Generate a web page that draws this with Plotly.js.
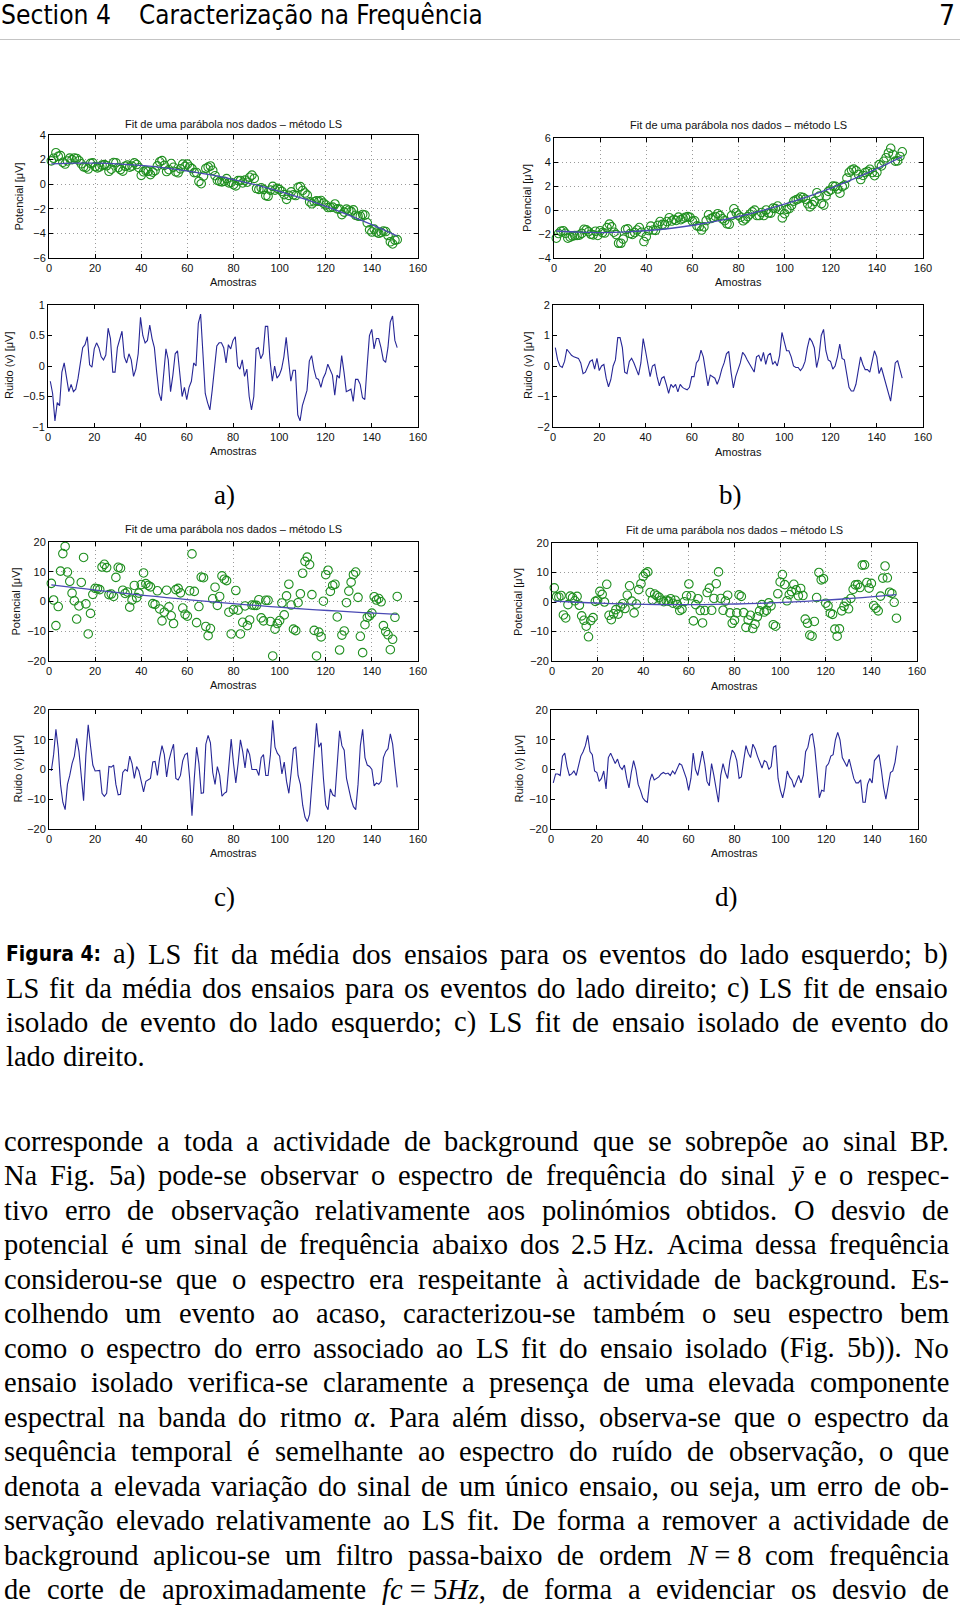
<!DOCTYPE html>
<html><head><meta charset="utf-8">
<script src="https://cdn.plot.ly/plotly-3.0.1.min.js"></script>
<style>html,body{margin:0;padding:0;background:#fff}</style>
</head><body>
<div id="chart" style="width:960px;height:1609px"></div>
<script>
// ---------------- DATA ----------------
const xTicks = [0,20,40,60,80,100,120,140,160];
const yTicksA = [-6,-4,-2,0,2,4];
const yTicksNoiseA = [-1,-0.5,0,0.5,1];
const yTicksB = [-4,-2,0,2,4,6];
const yTicksNoiseB = [-2,-1,0,1,2];
const yTicksCD = [-20,-10,0,10,20];

const fitX = [1,11,21,31,41,51,61,71,81,91,101,111,121,131,141,151];
const fitA = [1.65,1.71,1.71,1.64,1.51,1.31,1.05,0.73,0.34,-0.12,-0.64,-1.22,-1.87,-2.59,-3.37,-4.21];
const fitB = [-1.75,-1.85,-1.88,-1.83,-1.71,-1.52,-1.25,-0.91,-0.50,-0.01,0.55,1.18,1.89,2.67,3.53,4.45];
const fitC = [5.60,4.66,3.77,2.91,2.09,1.31,0.57,-0.13,-0.79,-1.41,-1.99,-2.53,-3.03,-3.50,-3.92,-4.30];
const fitD = [0.30,-0.09,-0.40,-0.64,-0.80,-0.89,-0.89,-0.82,-0.67,-0.45,-0.15,0.23,0.68,1.21,1.82,2.51];

const dataA = [1.90,2.11,2.56,2.27,2.32,1.78,1.64,1.89,2.12,2.00,
2.13,2.09,1.91,1.66,1.41,1.36,1.23,1.69,1.73,1.43,
1.33,1.40,1.55,1.59,1.50,1.05,1.22,1.76,1.75,1.35,
1.19,1.06,1.46,1.55,1.39,1.47,1.73,1.60,1.34,0.72,
1.01,1.11,1.05,0.78,0.98,1.11,1.49,1.82,1.92,1.53,
1.03,1.18,1.68,1.38,1.01,0.93,1.25,1.63,1.45,1.63,
1.40,1.27,0.94,0.95,0.22,0.04,0.66,1.28,1.39,1.48,
1.13,0.69,0.32,0.23,0.19,0.24,0.45,0.11,0.14,-0.04,
-0.14,0.29,0.30,0.10,0.33,0.16,0.56,0.74,0.47,-0.35,
-0.42,-0.29,-0.42,-0.93,-0.98,-0.48,-0.18,-0.48,-0.34,-0.44,
-0.59,-0.85,-1.23,-0.91,-0.62,-0.86,-0.92,-0.25,-0.20,-0.51,
-0.72,-0.89,-1.43,-1.59,-1.43,-1.35,-1.39,-1.33,-1.54,-1.69,
-1.90,-1.89,-1.86,-1.61,-2.01,-2.03,-2.47,-2.27,-2.03,-2.12,
-2.21,-2.09,-2.53,-2.60,-2.60,-2.46,-2.51,-3.14,-3.71,-3.89,
-3.65,-3.90,-3.99,-3.92,-3.81,-3.85,-4.17,-4.68,-4.86,-4.55,
-4.51];
const noiseA = [-0.25,-0.45,-0.9,-0.6,-0.65,-0.1,0.05,-0.2,-0.42,-0.3,
-0.42,-0.38,-0.2,0.05,0.3,0.35,0.48,0.02,-0.02,0.28,
0.38,0.3,0.15,0.1,0.18,0.62,0.45,-0.1,-0.1,0.3,
0.45,0.57,0.15,0.05,0.2,0.1,-0.17,-0.05,0.2,0.8,
0.5,0.38,0.42,0.67,0.45,0.3,-0.1,-0.45,-0.57,-0.2,
0.28,0.1,-0.42,-0.15,0.2,0.25,-0.1,-0.5,-0.35,-0.55,
-0.35,-0.25,0.05,0.0,0.7,0.85,0.2,-0.45,-0.6,-0.72,
-0.4,0.0,0.33,0.38,0.38,0.3,0.05,0.35,0.28,0.42,
0.48,0.0,-0.05,0.1,-0.17,-0.05,-0.5,-0.72,-0.5,0.28,
0.3,0.12,0.2,0.65,0.65,0.1,-0.25,0.0,-0.2,-0.15,
-0.05,0.15,0.47,0.1,-0.25,-0.07,-0.07,-0.8,-0.9,-0.65,
-0.5,-0.4,0.08,0.17,-0.05,-0.2,-0.22,-0.35,-0.2,-0.12,
0.03,-0.05,-0.15,-0.48,-0.15,-0.2,0.17,-0.1,-0.42,-0.4,
-0.38,-0.58,-0.22,-0.22,-0.3,-0.52,-0.55,0.0,0.5,0.6,
0.28,0.45,0.45,0.3,0.1,0.06,0.3,0.72,0.82,0.42,
0.3];
const dataB = [-2.35,-1.96,-1.77,-1.73,-1.94,-2.35,-2.26,-2.17,-2.13,-2.12,
-2.10,-1.95,-1.61,-1.66,-1.81,-2.02,-2.07,-1.77,-2.12,-1.73,
-1.88,-1.92,-1.47,-1.18,-1.41,-1.85,-2.05,-2.77,-2.77,-2.43,
-1.63,-1.57,-1.96,-2.04,-1.88,-1.67,-1.46,-1.85,-2.63,-2.22,
-1.71,-1.34,-1.67,-1.70,-1.28,-0.96,-1.20,-1.23,-0.96,-0.64,
-0.92,-0.79,-0.87,-0.59,-0.81,-0.69,-0.61,-0.55,-0.61,-0.93,
-0.90,-1.32,-1.38,-1.67,-1.41,-0.88,-0.40,-0.71,-0.63,-0.54,
-0.31,-0.47,-0.73,-0.89,-1.15,-1.19,-0.46,0.10,-0.23,-0.44,
-0.60,-0.90,-0.75,-0.55,-0.35,-0.16,-0.01,-0.46,-0.46,-0.21,
-0.46,0.00,-0.25,-0.26,0.16,0.12,0.33,0.03,-0.66,-0.31,
0.05,0.11,0.38,0.74,0.85,0.92,1.08,1.04,0.90,0.52,
0.26,0.45,0.72,1.44,1.16,0.54,0.41,1.18,1.55,1.67,
1.99,1.97,1.75,1.40,1.95,2.08,2.66,3.14,3.33,3.41,
3.27,2.96,2.54,2.88,3.13,3.22,3.39,3.12,2.86,3.14,
3.78,3.67,4.06,4.36,4.75,5.14,4.63,4.07,4.09,4.46,
4.85];
const noiseB = [0.6,0.2,0.0,-0.05,0.15,0.55,0.45,0.35,0.3,0.28,
0.25,0.1,-0.25,-0.2,-0.05,0.15,0.2,-0.1,0.25,-0.15,
0.0,0.05,-0.4,-0.68,-0.45,0.0,0.2,0.93,0.93,0.6,
-0.2,-0.25,0.15,0.25,0.1,-0.1,-0.3,0.1,0.9,0.5,
0.0,-0.35,0.0,0.05,-0.35,-0.65,-0.4,-0.35,-0.6,-0.9,
-0.6,-0.7,-0.6,-0.85,-0.6,-0.7,-0.75,-0.78,-0.7,-0.35,
-0.35,0.1,0.2,0.52,0.3,-0.2,-0.65,-0.3,-0.35,-0.4,
-0.6,-0.4,-0.1,0.1,0.4,0.48,-0.2,-0.72,-0.35,-0.1,
0.1,0.45,0.35,0.2,0.05,-0.1,-0.2,0.3,0.35,0.15,
0.45,0.05,0.35,0.42,0.05,0.15,0.0,0.35,1.1,0.8,
0.5,0.5,0.3,0.0,-0.05,-0.05,-0.15,-0.05,0.15,0.6,
0.92,0.8,0.6,-0.05,0.3,1.0,1.2,0.5,0.2,0.15,
-0.1,0.0,0.3,0.72,0.25,0.2,-0.3,-0.7,-0.82,-0.82,
-0.6,-0.2,0.3,0.05,-0.12,-0.12,-0.2,0.15,0.5,0.3,
-0.25,-0.05,-0.35,-0.55,-0.85,-1.15,-0.55,0.1,0.18,-0.1,
-0.4];
const dataC = [6.1,0.5,-8.1,-1.7,10.2,16.1,18.5,9.9,6.8,2.8,
0.2,-5.9,-1.5,6.4,14.8,-0.8,-10.9,-4.0,2.4,4.4,
4.3,4.0,11.6,12.5,11.4,2.3,2.5,1.7,8.1,11.5,
11.2,3.8,2.7,3.2,-1.9,0.5,5.4,1.3,2.8,5.7,
9.6,6.0,5.4,4.9,-0.7,-1.0,3.6,-2.5,-6.5,-3.6,
3.8,-1.8,-4.8,-7.4,4.0,4.4,2.9,-2.2,-4.3,-4.9,
3.6,16.0,3.4,-7.1,-1.7,8.2,8.0,-8.4,-11.5,-9.1,
0.9,4.8,-1.3,1.7,8.6,7.5,7.0,-3.6,-10.9,-2.7,
3.7,-2.9,-10.9,-7.0,-1.5,-8.1,-6.2,-1.2,-1.3,-1.3,
0.6,-5.5,-6.5,0.4,0.4,-6.7,-18.3,-9.3,-7.4,-6.4,
-0.5,-4.5,1.9,5.8,-1.2,-9.3,-9.8,-0.4,2.6,9.5,
13.5,14.9,12.4,2.3,-9.7,-18.3,-10.3,-11.9,0.1,9.0,
10.5,3.4,5.4,5.8,-5.2,-16.3,-11.3,-9.9,-0.4,3.5,
6.5,9.0,9.9,1.4,-11.7,-17.2,-7.8,-5.3,-4.8,-3.9,
1.6,0.5,1.0,-0.1,-8.1,-10.1,-11.2,-16.2,-12.7,-5.3,
1.7];
const noiseC = [-0.5,5,13.5,7,-5,-11,-13.5,-5,-2,2,
4.5,10.5,6,-2,-10.5,5,15,8,1.5,-0.5,
-0.5,-0.3,-8,-9,-8,1,0.8,1.5,-5,-8.5,
-8.3,-1,0,-0.5,4.5,2,-3,1,-0.5,-3.5,
-7.5,-4,-3.5,-3,2.5,2.7,-2,4,8,5,
-2.5,3,6,8.5,-3,-3.5,-2,3,5,5.5,
-3,-15.5,-3,7.5,2,-8,-7.8,8.5,11.5,9,
-1,-5,1,-2,-9,-8,-7.5,3,10.2,2,
-4.5,2,10,6,0.5,7,5,0,0,0,
-2,4,5,-2,-2,5,16.5,7.5,5.5,4.5,
-1.5,2.5,-4,-8,-1,7,7.5,-2,-5,-12,
-16,-17.5,-15,-5,7,15.5,7.5,9,-3,-12,
-13.5,-6.5,-8.5,-9,2,13,8,6.5,-3,-7,
-10,-12.5,-13.5,-5,8,13.5,4,1.5,1,0,
-5.5,-4.5,-5,-4,4,6,7,12,8.5,1,
-6];
const dataD = [4.8,1.8,1.7,2.2,-4.4,-5.4,-0.9,2.0,1.5,0.4,
1.9,-1.1,-4.7,-6.2,-8.2,-11.8,-6.3,-5.3,0.2,0.6,
3.6,2.6,0.0,6.0,-4.5,-6.0,-4.0,-2.6,-4.1,-1.6,
-0.6,-2.2,2.3,5.5,0.3,-3.7,-0.7,4.2,6.2,8.7,
9.7,10.2,3.2,0.7,2.7,2.1,1.6,0.6,0.1,0.6,
0.3,1.1,-0.4,0.6,-0.9,-2.9,-2.4,0.1,2.1,6.1,
2.1,-6.4,-0.9,1.1,-2.9,-7.1,-2.9,3.2,4.7,-2.8,
1.2,6.2,10.2,1.2,-2.8,0.3,2.3,-3.7,-7.2,-6.2,
-3.7,2.4,1.9,-3.6,-8.6,-6.1,-4.5,-9.0,-7.5,-5.0,
-3.0,-0.9,-3.4,-2.8,-0.3,-1.3,-7.7,-8.2,2.8,6.8,
9.3,5.9,0.4,2.5,3.5,6.0,4.1,2.1,4.6,2.2,
-5.8,-7.2,-11.2,-11.6,-6.6,1.5,10.0,7.5,7.9,-0.4,
-1.3,-3.8,-4.2,-9.2,-11.6,-9.1,-3.0,-1.5,0.1,-2.3,
1.2,4.3,5.8,5.9,4.9,12.5,12.6,6.6,4.7,6.3,
-1.2,-2.1,-3.0,2.0,8.1,12.2,8.2,3.3,2.9,-0.1,
-5.5];
const noiseD = [-4.5,-1.5,-1.5,-2,4.5,5.5,1,-2,-1.5,-0.5,
-2,1,4.5,6,8,11.5,6,5,-0.5,-1,
-4,-3,-0.5,-6.5,4,5.5,3.5,2,3.5,1,
0,1.5,-3,-6.2,-1,3,0,-5,-7,-9.5,
-10.5,-11,-4,-1.5,-3.5,-3,-2.5,-1.5,-1,-1.5,
-1.2,-2,-0.5,-1.5,0,2,1.5,-1,-3,-7,
-3,5.5,0,-2,2,6.2,2,-4,-5.5,2,
-2,-7,-11,-2,2,-1,-3,3,6.5,5.5,
3,-3,-2.5,3,8,5.5,4,8.5,7,4.5,
2.5,0.5,3,2.5,0,1,7.5,8,-3,-7,
-9.5,-6,-0.5,-2.5,-3.5,-6,-4,-2,-4.5,-2,
6,7.5,11.5,12,7,-1,-9.5,-7,-7.3,1,
2,4.5,5,10,12.5,10,4,2.5,1,3.5,
0,-3,-4.5,-4.5,-3.5,-11,-11,-5,-3,-4.5,
3,4,5,0,-6,-10,-6,-1,-0.5,2.5,
8];

const plotTitle = 'Fit de uma parábola nos dados – método LS';
const xLabel = 'Amostras';
const yLabelTop = 'Potencial [μV]';
const yLabelNoise = 'Ruido (v) [μV]';
const panelLabels = ['a)','b)','c)','d)'];

const headerLeft = 'Section 4';
const headerTitle = 'Caracterização na Frequência';
const pageNumber = '7';

const captionLines = [
 ['§Figura~4: a) LS fit da média dos ensaios para os eventos do lado esquerdo; b)', true],
 ['LS fit da média dos ensaios para os eventos do lado direito; c) LS fit de ensaio', true],
 ['isolado de evento do lado esquerdo; c) LS fit de ensaio isolado de evento do', true],
 ['lado direito.', false]
];
const bodyLines = [
 ['corresponde a toda a actividade de background que se sobrepõe ao sinal BP.', true],
 ['Na Fig. 5a) pode-se observar o espectro de frequência do sinal <i>ȳ</i> e o respec-', true],
 ['tivo erro de observação relativamente aos polinómios obtidos. O desvio de', true],
 ['potencial é um sinal de frequência abaixo dos 2.5~Hz. Acima dessa frequência', true],
 ['considerou-se que o espectro era respeitante à actividade de background. Es-', true],
 ['colhendo um evento ao acaso, caracterizou-se também o seu espectro bem', true],
 ['como o espectro do erro associado ao LS fit do ensaio isolado (Fig. 5b)). No', true],
 ['ensaio isolado verifica-se claramente a presença de uma elevada componente', true],
 ['espectral na banda do ritmo <i>α</i>. Para além disso, observa-se que o espectro da', true],
 ['sequência temporal é semelhante ao espectro do ruído de observação, o que', true],
 ['denota a elevada variação do sinal de um único ensaio, ou seja, um erro de ob-', true],
 ['servação elevado relativamente ao LS fit. De forma a remover a actividade de', true],
 ['background aplicou-se um filtro passa-baixo de ordem <i>N</i>~=~8 com frequência', true],
 ['de corte de aproximadamente <i>fc</i>~=~5<i>Hz</i>, de forma a evidenciar os desvio de', true]
];

// ---------------- LAYOUT ----------------
const W = 960, H = 1609;
const px = x => x / W, py = y => 1 - y / H;
const sampleX = dataA.map((_, i) => i + 1);

const PLOTFONT = '"Liberation Sans", Arial, Helvetica, sans-serif';
const SERIF = '"Liberation Serif", "Times New Roman", serif';
const SANSN = '"Liberation Sans Narrow", "DejaVu Sans Condensed", "Liberation Sans", sans-serif';
const BODY = 28.5;

const layout = {
  width: W, height: H, margin: {l:0, r:0, t:0, b:0},
  paper_bgcolor: '#ffffff', plot_bgcolor: '#ffffff', showlegend: false,
  annotations: [], shapes: []
};
const traces = [];

const panels = [
  {box:[49,418,135,258], yt:yTicksA, yr:[-6,4], grid:true, sc:dataA, fit:fitA, ylx:18, xly:282, tty:124},
  {box:[48,418,305,427], yt:yTicksNoiseA, yr:[-1,1], grid:false, ln:noiseA, ylx:9, xly:451},
  {box:[554,923,138,258], yt:yTicksB, yr:[-4,6], grid:true, sc:dataB, fit:fitB, ylx:527, xly:282, tty:125},
  {box:[553,923,305,427], yt:yTicksNoiseB, yr:[-2,2], grid:false, ln:noiseB, ylx:528, xly:452},
  {box:[49,418,542,661], yt:yTicksCD, yr:[-20,20], grid:true, sc:dataC, fit:fitC, ylx:15, xly:685, tty:529},
  {box:[49,418,710,829], yt:yTicksCD, yr:[-20,20], grid:false, ln:noiseC, ylx:17, xly:853},
  {box:[552,917,543,661], yt:yTicksCD, yr:[-20,20], grid:true, sc:dataD, fit:fitD, ylx:518, xly:686, tty:530},
  {box:[551,918,710,829], yt:yTicksCD, yr:[-20,20], grid:false, ln:noiseD, ylx:518, xly:853}
];

const tickFont = {family: PLOTFONT, size: 11, color: '#111'};
function ann(o) {
  layout.annotations.push(Object.assign({xref:'paper', yref:'paper', showarrow:false, borderpad:0}, o));
}

panels.forEach((p, i) => {
  const n = i === 0 ? '' : String(i + 1);
  const [x0, x1, y0, y1] = p.box;
  const common = {
    ticks:'inside', ticklen:4, tickwidth:1, tickcolor:'#000',
    showline:true, linecolor:'#000', linewidth:1, mirror:'ticks',
    showgrid:p.grid, gridcolor:'#9a9a9a', gridwidth:1, griddash:'1px,3px',
    zeroline:false, tickfont:tickFont, fixedrange:true, automargin:false
  };
  layout['xaxis' + n] = Object.assign({}, common, {
    domain:[px(x0), px(x1)], range:[0,160], tickmode:'array', tickvals:xTicks,
    anchor:'y' + n
  });
  layout['yaxis' + n] = Object.assign({}, common, {
    domain:[py(y1), py(y0)], range:p.yr, tickmode:'array', tickvals:p.yt,
    anchor:'x' + n
  });
  const xa = 'x' + n, ya = 'y' + n;
  if (p.sc) {
    traces.push({x:sampleX, y:p.sc, xaxis:xa, yaxis:ya, type:'scatter', mode:'markers',
      cliponaxis:false,
      marker:{symbol:'circle-open', size:8.5, color:'#1f8f1f', line:{width:1.1, color:'#1f8f1f'}}, hoverinfo:'skip'});
    traces.push({x:fitX, y:p.fit, xaxis:xa, yaxis:ya, type:'scatter', mode:'lines',
      line:{color:'#4a4ab4', width:1.3, shape:'spline', smoothing:0.8}, hoverinfo:'skip'});
    ann({x:px((x0 + x1) / 2), y:py(p.tty), text:plotTitle, xanchor:'center', yanchor:'middle',
      font:{family:PLOTFONT, size:11, color:'#111'}});
  } else {
    traces.push({x:sampleX, y:p.ln, xaxis:xa, yaxis:ya, type:'scatter', mode:'lines',
      line:{color:'#262696', width:1.1}, hoverinfo:'skip'});
  }
  ann({x:px((x0 + x1) / 2), y:py(p.xly), text:xLabel, xanchor:'center', yanchor:'middle',
    font:{family:PLOTFONT, size:11, color:'#111'}});
  ann({x:px(p.ylx), y:py((y0 + y1) / 2), text:p.sc ? yLabelTop : yLabelNoise, textangle:-90,
    xanchor:'center', yanchor:'middle', font:{family:PLOTFONT, size:11, color:'#111'}});
});

// panel letters
[[224,495],[730,495],[224,897],[726,897]].forEach((c, i) => {
  ann({x:px(c[0]), y:py(c[1]), text:panelLabels[i], xanchor:'center', yanchor:'middle',
    font:{family:SERIF, size:27, color:'#000'}});
});

// ---------------- TEXT ----------------
const ctx = document.createElement('canvas').getContext('2d');
function measure(txt, font) { ctx.font = font; return ctx.measureText(txt).width; }
function canvasFont(size, fam, italic, bold) {
  return (italic ? 'italic ' : '') + (bold ? 'bold ' : '') + size + 'px ' + fam;
}
function tokWidth(tok, size, fam, bold) {
  let w = 0;
  tok.split(/(<i>[^<]*<\/i>)/).filter(s => s.length).forEach(s => {
    const it = s.startsWith('<i>');
    const txt = s.replace(/<\/?i>/g, '').replace(/~/g, ' ');
    w += measure(txt, canvasFont(size, fam, it, bold));
  });
  return w;
}
const figLabelW = 95;
let figSize = 26;
{
  const w = measure('Figura 4:', canvasFont(26, SANSN, false, true));
  figSize = Math.min(26, 26 * figLabelW / w);
}
function addLine(str, baseline, justify, xl, xr) {
  const info = str.split(' ').map(t => {
    const sans = t.startsWith('§');
    const tt = sans ? t.slice(1) : t;
    const fam = sans ? SANSN : SERIF;
    const size = sans ? figSize : BODY;
    return {t:tt, fam, size, bold:sans, w:tokWidth(tt, size, fam, sans)};
  });
  const total = info.reduce((a, b) => a + b.w, 0);
  const sp = measure(' ', canvasFont(BODY, SERIF));
  const gap = (justify && info.length > 1) ? (xr - xl - total) / (info.length - 1) : sp * 1.1;
  let x = xl;
  info.forEach(k => {
    let txt = k.t.replace(/~/g, ' ');
    if (k.bold) txt = '<b>' + txt + '</b>';
    ann({x:px(x), y:py(baseline - 0.3375 * BODY), text:txt, xanchor:'left', yanchor:'middle',
      font:{family:k.fam, size:k.size, color:'#000'}});
    x += k.w + gap;
  });
}
captionLines.forEach((l, i) => addLine(l[0], 964 + 34 * i, l[1], 5, 947));
bodyLines.forEach((l, i) => addLine(l[0], 1151 + 34.5 * i, l[1], 3, 948));

// header
function fitSize(txt, target, maxSize) {
  const w = measure(txt, canvasFont(maxSize, SANSN));
  return Math.min(maxSize, maxSize * target / w);
}
const hs1 = fitSize(headerLeft, 110, 28);
const hs2 = fitSize(headerTitle, 344, 28);
ann({x:px(0), y:py(25 - 0.34 * 28), text:headerLeft, xanchor:'left', yanchor:'middle',
  font:{family:SANSN, size:hs1, color:'#000'}});
ann({x:px(138), y:py(25 - 0.34 * 28), text:headerTitle, xanchor:'left', yanchor:'middle',
  font:{family:SANSN, size:hs2, color:'#000'}});
ann({x:px(956), y:py(25 - 0.34 * 28), text:pageNumber, xanchor:'right', yanchor:'middle',
  font:{family:SANSN, size:28, color:'#000'}});
layout.shapes.push({type:'line', xref:'paper', yref:'paper', x0:0, x1:1, y0:py(39.5), y1:py(39.5),
  line:{color:'#c4c4c4', width:1}});

Plotly.newPlot('chart', traces, layout, {staticPlot:true, displayModeBar:false});
</script>
</body></html>
